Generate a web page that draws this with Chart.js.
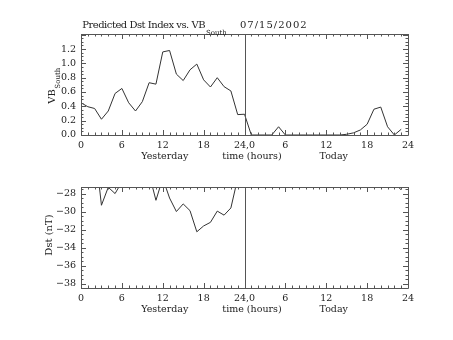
<!DOCTYPE html>
<html>
<head>
<meta charset="utf-8">
<script src="https://cdn.jsdelivr.net/npm/chart.js@4.4.1/dist/chart.umd.min.js"></script>
<style>
  body { margin: 0; background: #fff; }
  canvas { display: block; }
</style>
</head>
<body>
<canvas id="vbChart" width="453" height="170"></canvas>
<canvas id="dstChart" width="453" height="170"></canvas>
<script>
// hours since 00:00 yesterday (0-23 yesterday, 24-47 today)
var vbHours = [0, 1, 2, 3, 4, 5, 6, 7, 8, 9, 10, 11, 12, 13, 14, 15, 16, 17, 18, 19, 20, 21, 22, 23,
               24, 25, 26, 27, 28, 29, 30, 31, 32, 33, 34, 35, 36, 37, 38, 39, 40, 41, 42, 43, 44, 45, 46, 47];
var vbSouth = [0.45, 0.395, 0.37, 0.22, 0.335, 0.58, 0.65, 0.45, 0.335, 0.465, 0.73, 0.71,
               1.16, 1.18, 0.85, 0.76, 0.91, 0.99, 0.77, 0.67, 0.80, 0.675, 0.615, 0.285,
               0.29, 0, 0, 0, 0, 0.115, 0, 0, 0, 0, 0, 0,
               0, 0, 0, 0.01, 0.03, 0.07, 0.15, 0.36, 0.39, 0.115, 0, 0.08];

// Dst goes off the top of the plot most of today; only the last hours come back in range
var dstHours = vbHours;
var dst = [-24, -23, -22.5, -29.3, -27.3, -28.0, -26.7, -25, -24.5, -25, -25.8, -28.75,
           -26.3, -28.5, -30.0, -29.15, -29.9, -32.25, -31.6, -31.2, -29.95, -30.4, -29.6, -26.3,
           null, null, null, null, null, null, null, null, null, null, null, null,
           null, null, null, null, null, null, null, null, null, null, -26.8, -27.6];

var xTickHours = [0, 6, 12, 18, 24, 30, 36, 42, 48];
var xTickLabels = ['0', '6', '12', '18', '24,0', '6', '12', '18', '24'];
var vbTicks = [0, 0.2, 0.4, 0.6, 0.8, 1.0, 1.2];
var dstTicks = [-38, -36, -34, -32, -30, -28];

var FONT = '"DejaVu Serif", "Liberation Serif", serif';
var INK = '#222';
var AXIS = '#555';

function pairs(xs, ys) {
    return xs.map(function (h, i) { return {x: h, y: ys[i]}; });
}

// IDL style box: inward ticks on all four sides, divider at 24h, captions
function idlFrame(cfg) {
    return {
        id: 'idlFrame',
        afterDatasetsDraw: function (chart) {
            var ctx = chart.ctx, a = chart.chartArea;
            var xs = chart.scales.x, ys = chart.scales.y;
            ctx.save();
            ctx.strokeStyle = AXIS;
            ctx.lineWidth = 1;
            ctx.beginPath();
            ctx.rect(a.left + 0.5, a.top + 0.5, a.right - a.left, a.bottom - a.top);

            var h, px, len;
            for (h = 0; h <= 48; h++) {
                px = Math.round(xs.getPixelForValue(h)) + 0.5;
                len = h % 6 === 0 ? 5 : 2.5;
                ctx.moveTo(px, a.bottom);
                ctx.lineTo(px, a.bottom - len);
                ctx.moveTo(px, a.top);
                ctx.lineTo(px, a.top + len);
            }
            var n = Math.round((ys.max - cfg.minorStart) / cfg.minorStep);
            for (var i = 0; i <= n; i++) {
                var v = cfg.minorStart + i * cfg.minorStep;
                if (v < ys.min - 1e-9 || v > ys.max + 1e-9) continue;
                var py = Math.round(ys.getPixelForValue(v)) + 0.5;
                var major = Math.abs(v / cfg.majorStep - Math.round(v / cfg.majorStep)) < 1e-6;
                len = major ? 5 : 2.5;
                ctx.moveTo(a.left, py);
                ctx.lineTo(a.left + len, py);
                ctx.moveTo(a.right, py);
                ctx.lineTo(a.right - len, py);
            }
            // yesterday / today divider
            px = Math.round(xs.getPixelForValue(24)) + 0.5;
            ctx.moveTo(px, a.top);
            ctx.lineTo(px, a.bottom);
            ctx.stroke();

            ctx.fillStyle = INK;
            ctx.font = '9.5px ' + FONT;
            ctx.textAlign = 'center';
            ctx.textBaseline = 'middle';
            cfg.captions.forEach(function (c) {
                ctx.fillText(c.text, xs.getPixelForValue(c.at), a.bottom + cfg.captionGap);
            });

            // rotated y title with optional subscript
            ctx.translate(cfg.yTitle.x, cfg.yTitle.y);
            ctx.rotate(-Math.PI / 2);
            ctx.textBaseline = 'alphabetic';
            ctx.textAlign = 'left';
            ctx.font = '10px ' + FONT;
            var w1 = ctx.measureText(cfg.yTitle.text).width;
            var w2 = 0;
            if (cfg.yTitle.sub) {
                ctx.font = '7px ' + FONT;
                w2 = ctx.measureText(cfg.yTitle.sub).width;
            }
            var x0 = -(w1 + w2) / 2;
            ctx.font = '10px ' + FONT;
            ctx.fillText(cfg.yTitle.text, x0, 0);
            if (cfg.yTitle.sub) {
                ctx.font = '7px ' + FONT;
                ctx.fillText(cfg.yTitle.sub, x0 + w1 + 0.5, 5);
            }
            ctx.restore();

            if (cfg.title) {
                ctx.save();
                ctx.fillStyle = INK;
                ctx.textBaseline = 'alphabetic';
                ctx.font = '10px ' + FONT;
                ctx.textAlign = 'right';
                ctx.letterSpacing = '-0.5px';
                ctx.fillText(cfg.title.main, 205, 28);
                ctx.textAlign = 'left';
                ctx.letterSpacing = '1px';
                ctx.fillText(cfg.title.date, 240, 28);
                ctx.letterSpacing = '0px';
                ctx.font = '7px ' + FONT;
                ctx.fillText(cfg.title.sub, 206, 35);
                ctx.restore();
            }
        }
    };
}

function makeChart(id, opts) {
    return new Chart(document.getElementById(id), {
        type: 'line',
        data: {
            datasets: [{
                data: opts.data,
                borderColor: '#333',
                borderWidth: 1,
                pointRadius: 0,
                tension: 0,
                fill: false,
                spanGaps: false
            }]
        },
        options: {
            responsive: false,
            animation: false,
            events: [],
            layout: {padding: {top: opts.top, right: 45, bottom: 0, left: 0}},
            plugins: {legend: {display: false}, tooltip: {enabled: false}, title: {display: false}},
            scales: {
                x: {
                    type: 'linear',
                    min: 0,
                    max: 48,
                    afterBuildTicks: function (s) {
                        s.ticks = xTickHours.map(function (v) { return {value: v}; });
                    },
                    afterFit: function (s) { s.height = opts.xHeight; },
                    grid: {display: false, drawTicks: false},
                    border: {display: false},
                    ticks: {
                        autoSkip: false,
                        maxRotation: 0,
                        padding: 5,
                        color: INK,
                        font: {family: FONT, size: 9.5},
                        callback: function (v, i) { return xTickLabels[i]; }
                    }
                },
                y: {
                    type: 'linear',
                    min: opts.yMin,
                    max: opts.yMax,
                    afterBuildTicks: function (s) {
                        s.ticks = opts.yTicks.map(function (v) { return {value: v}; });
                    },
                    afterFit: function (s) { s.width = 81; },
                    grid: {display: false, drawTicks: false},
                    border: {display: false},
                    ticks: {
                        padding: 5,
                        color: INK,
                        font: {family: FONT, size: 9.5},
                        callback: opts.yFormat
                    }
                }
            }
        },
        plugins: [idlFrame(opts.frame)]
    });
}

makeChart('vbChart', {
    data: pairs(vbHours, vbSouth),
    top: 34,
    xHeight: 35,
    yMin: 0,
    yMax: 1.41,
    yTicks: vbTicks,
    yFormat: function (v) { return v.toFixed(1); },
    frame: {
        minorStart: 0, minorStep: 0.05, majorStep: 0.2,
        captionGap: 22,
        captions: [{text: 'Yesterday', at: 12.3}, {text: 'time (hours)', at: 25.1}, {text: 'Today', at: 37.1}],
        yTitle: {text: 'VB', sub: 'South', x: 55, y: 86},
        title: {main: 'Predicted Dst Index vs. VB', sub: 'South', date: '07/15/2002'}
    }
});

makeChart('dstChart', {
    data: pairs(dstHours, dst),
    top: 17,
    xHeight: 52,
    yMin: -38.5,
    yMax: -27.27,
    yTicks: dstTicks,
    yFormat: function (v) { return String(v).replace('-', '\u2212'); },
    frame: {
        minorStart: -38.5, minorStep: 0.5, majorStep: 2,
        captionGap: 22,
        captions: [{text: 'Yesterday', at: 12.3}, {text: 'time (hours)', at: 25.1}, {text: 'Today', at: 37.1}],
        yTitle: {text: 'Dst (nT)', x: 52, y: 65}
    }
});
</script>
</body>
</html>
